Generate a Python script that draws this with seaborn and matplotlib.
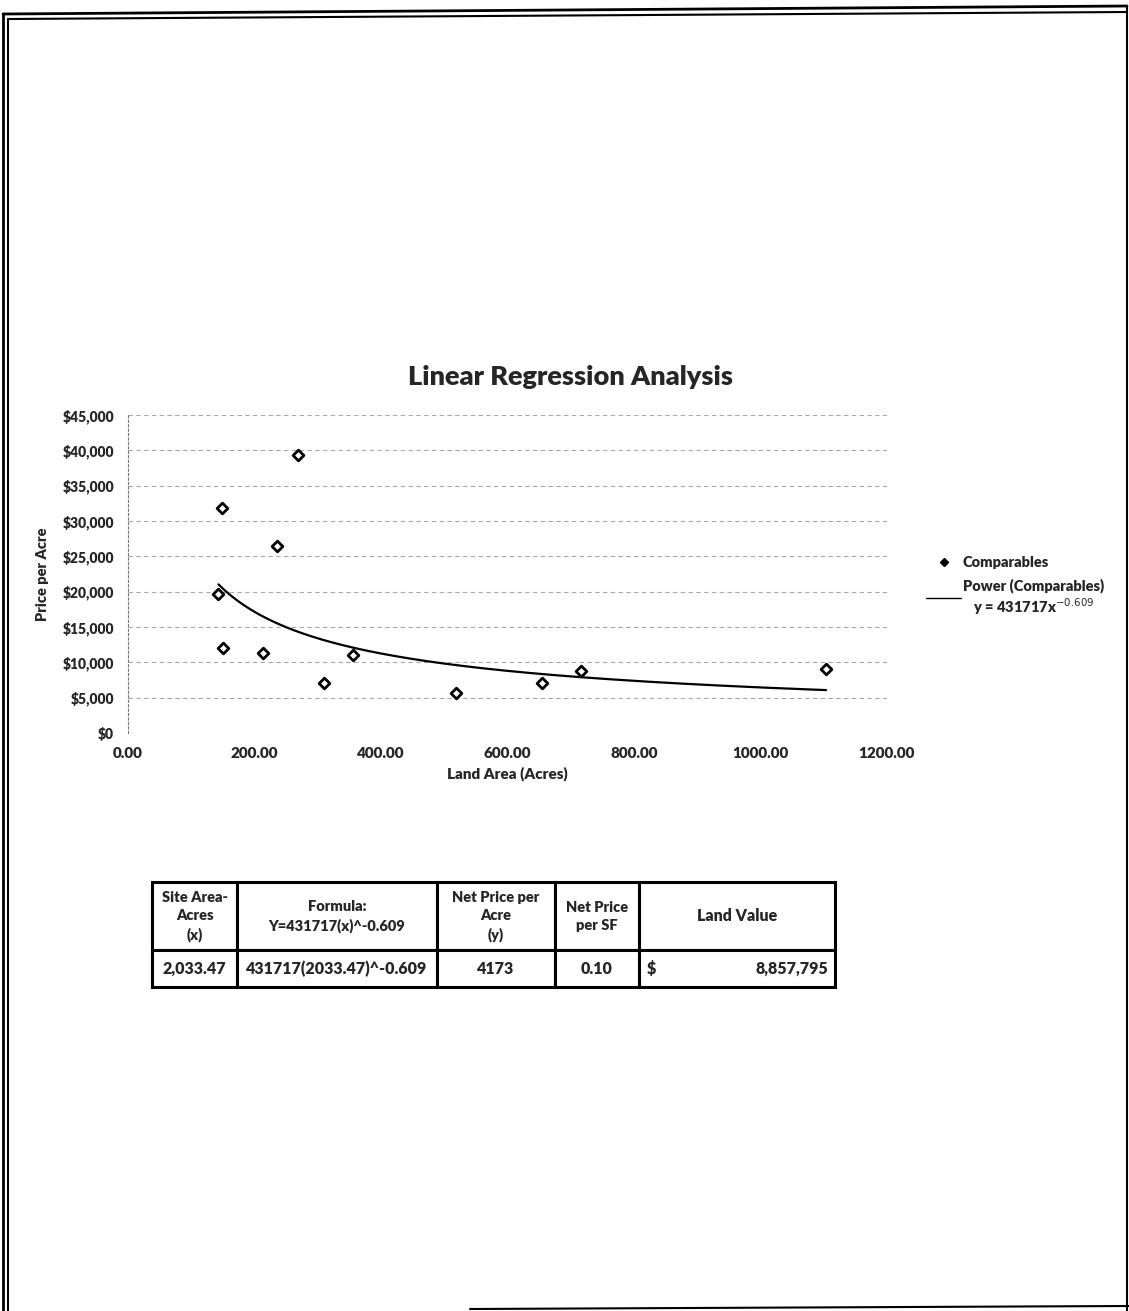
import numpy as np
import pandas as pd
import matplotlib.pyplot as plt
import seaborn as sns
from matplotlib.lines import Line2D

# Comparables
land_area = [143, 148, 150, 213, 235, 269, 310, 356, 518, 655, 717, 1104]
price_per_acre = [19670, 31840, 12030, 11320, 26460, 39340, 7075, 11040, 5660, 7075, 8770, 9060]

# Power trendline coefficients shown in the legend
trend_coef = 431717
trend_exp = -0.609

y_ticks = [0, 5000, 10000, 15000, 20000, 25000, 30000, 35000, 40000, 45000]
x_ticks = [0, 200, 400, 600, 800, 1000, 1200]

# Table under the chart
table_header = ["Site Area-\nAcres\n(x)", "Formula:\nY=431717(x)^-0.609", "Net Price per\nAcre\n(y)",
                "Net Price\nper SF", "Land Value"]
table_row = ["2,033.47", "431717(2033.47)^-0.609", "4173", "0.10", ""]
land_value = "8,857,795"

sns.set_style("white")
plt.rcParams['font.family'] = ['Lato', 'DejaVu Sans']

df = pd.DataFrame({"x": land_area, "y": price_per_acre})
trend_x = np.linspace(min(land_area), max(land_area), 200)
trend = pd.DataFrame({"x": trend_x, "y": trend_coef * trend_x ** trend_exp})

fig = plt.figure(figsize=(11.29, 13.11), dpi=100)
ax = fig.add_axes([0.1134, 0.441, 0.672, 0.2425])

sns.lineplot(data=trend, x="x", y="y", color="black", linewidth=1.6, ax=ax)
sns.scatterplot(data=df, x="x", y="y", marker="D", s=30, facecolor="white",
                edgecolor="black", linewidth=2, zorder=3, ax=ax)

ax.set_xlim(0, 1200)
ax.set_ylim(0, 45000)
ax.set_xticks(x_ticks)
ax.set_yticks(y_ticks)
ax.set_xticklabels([f"{v:.2f}" for v in x_ticks], fontsize=11, fontweight="heavy")
ax.set_yticklabels([f"${v:,.0f}" for v in y_ticks], fontsize=10, fontweight="heavy")
ax.tick_params(axis="x", pad=10, length=0)
ax.tick_params(axis="y", pad=10, length=0)
ax.yaxis.grid(True, color="#a8a8a8", linestyle=(0, (4, 3)), linewidth=0.8)
for s in ["top", "right", "bottom"]:
    ax.spines[s].set_visible(False)
ax.spines["left"].set_color("#777777")
ax.spines["left"].set_linestyle((0, (2, 2)))
ax.spines["left"].set_linewidth(0.8)

ax.set_xlabel("Land Area (Acres)", fontsize=11, fontweight="heavy", labelpad=5)
ax.set_ylabel("Price per Acre", fontsize=10.5, fontweight="heavy", labelpad=10)
fig.text(570 / 1129, 1 - 377 / 1311, "Linear Regression Analysis", fontsize=19.5, fontweight="heavy",
         ha="center", va="center")

handles = [Line2D([], [], marker="D", color="black", linestyle="none", markersize=4.5),
           Line2D([], [], color="black", linewidth=1)]
labels = ["Comparables", "Power (Comparables)\n   y = 431717x$^{-0.609}$"]
ax.legend(handles, labels, loc="center left", bbox_to_anchor=(1.035, 0.46), frameon=False,
          prop={"weight": "heavy", "size": 10.5}, handlelength=2.4, handletextpad=0.1, labelspacing=0.6)

# Table
tax = fig.add_axes([152 / 1129, 1 - 987 / 1311, (835 - 152) / 1129, (987 - 882) / 1311])
tax.axis("off")
col_w = np.array([85, 200, 118, 84, 196], dtype=float)
tbl = tax.table(cellText=[table_header, table_row], colWidths=list(col_w / col_w.sum()),
                cellLoc="center", bbox=[0, 0, 1, 1])
tbl.auto_set_font_size(False)
for (r, c), cell in tbl.get_celld().items():
    cell.set_linewidth(2.2)
    cell.set_edgecolor("black")
    cell.get_text().set_fontweight("heavy")
    cell.get_text().set_fontsize(11.5 if r == 1 else 10.5)
    cell.get_text().set_linespacing(1.45)
    cell.set_height(0.65 if r == 0 else 0.35)
tbl.get_celld()[(0, 4)].get_text().set_fontsize(11.5)
left_last = col_w[:4].sum() / col_w.sum()
tax.text(left_last + 0.012, 0.175, "$", fontsize=11.5, fontweight="heavy", ha="left", va="center",
         transform=tax.transAxes)
tax.text(0.99, 0.175, land_value, fontsize=11.5, fontweight="heavy", ha="right", va="center",
         transform=tax.transAxes)

# scanned page frame
W, H = 1129, 1311
def fl(x0, y0, x1, y1, lw=2):
    fig.add_artist(Line2D([x0 / W, x1 / W], [1 - y0 / H, 1 - y1 / H], color="black", linewidth=lw))

fl(3, 14, 1127, 6)
fl(8, 19, 1127, 12, lw=1.5)
fl(3, 14, 3, 1311)
fl(8, 19, 8, 1311, lw=1.5)
fl(1127, 6, 1127, 1311, lw=1.5)
fl(470, 1309, 1129, 1306, lw=1.5)

plt.savefig("out.png", dpi=100)
plt.close()
